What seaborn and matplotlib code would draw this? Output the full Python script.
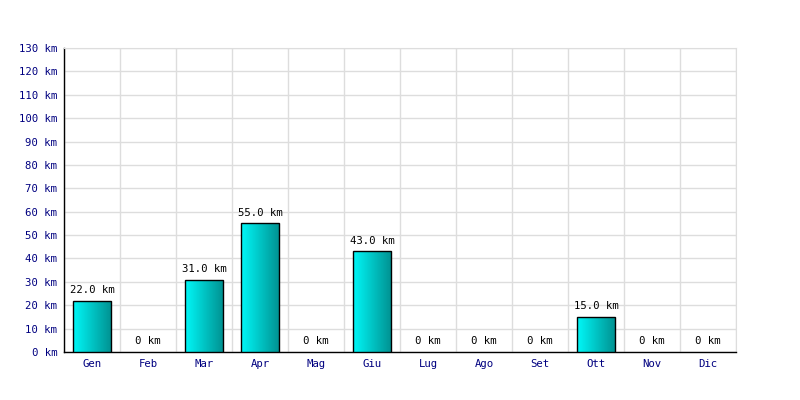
import numpy as np
import pandas as pd
import matplotlib
matplotlib.use("Agg")
import matplotlib.pyplot as plt
import seaborn as sns
from matplotlib.colors import LinearSegmentedColormap

# Data
months = ["Gen", "Feb", "Mar", "Apr", "Mag", "Giu", "Lug", "Ago", "Set", "Ott", "Nov", "Dic"]
km = [22.0, 0, 31.0, 55.0, 0, 43.0, 0, 0, 0, 15.0, 0, 0]
y_ticks = list(range(0, 131, 10))

df = pd.DataFrame({"Mese": months, "km": km})

sns.set_style("white")
plt.rcParams["font.family"] = ["DejaVu Sans Mono", "DejaVu Sans"]

fig = plt.figure(figsize=(8, 4), dpi=100)
ax = fig.add_axes([0.08, 0.12, 0.84, 0.76])

sns.barplot(data=df, x="Mese", y="km", ax=ax, color="#00cccc",
            width=0.68, edgecolor="black", linewidth=1, zorder=3)

# gradient fill on each bar (cyan -> teal)
grad = LinearSegmentedColormap.from_list("cy", ["#00f8f8", "#009090"])
g = np.linspace(0, 1, 256).reshape(1, -1)
for p in ax.patches:
    h = p.get_height()
    if h <= 0:
        p.set_visible(False)
        continue
    x0 = p.get_x()
    w = p.get_width()
    im = ax.imshow(g, cmap=grad, aspect="auto", extent=[x0, x0 + w, 0, h],
                   zorder=3, interpolation="bilinear")
    im.set_clip_path(p)
    p.set_facecolor("none")
    p.set_zorder(4)

# value labels
for i, v in enumerate(km):
    lbl = f"{v:.1f} km" if v > 0 else "0 km"
    ax.annotate(lbl, (i, v), xytext=(0, 4), textcoords="offset points",
                ha="center", va="bottom", fontsize=7.7, color="black", zorder=5)

ax.set_xlim(-0.5, len(months) - 0.5)
ax.set_ylim(0, 130)
ax.set_yticks(y_ticks)
ax.set_yticklabels([f"{t} km" for t in y_ticks])
ax.set_xticks(np.arange(-0.5, len(months), 1), minor=True)

ax.grid(True, axis="y", color="#dddddd", linewidth=1, zorder=0)
ax.grid(True, axis="x", which="minor", color="#dddddd", linewidth=1, zorder=0)
ax.grid(False, axis="x", which="major")
ax.set_axisbelow(True)

ax.set_xlabel("")
ax.set_ylabel("")
ax.tick_params(axis="both", which="both", length=0, labelsize=7.7, labelcolor="#000080", pad=5)

for s in ["top", "right"]:
    ax.spines[s].set_color("#dddddd")
for s in ["left", "bottom"]:
    ax.spines[s].set_color("black")
    ax.spines[s].set_linewidth(1)

fig.savefig("out.png", dpi=100)
